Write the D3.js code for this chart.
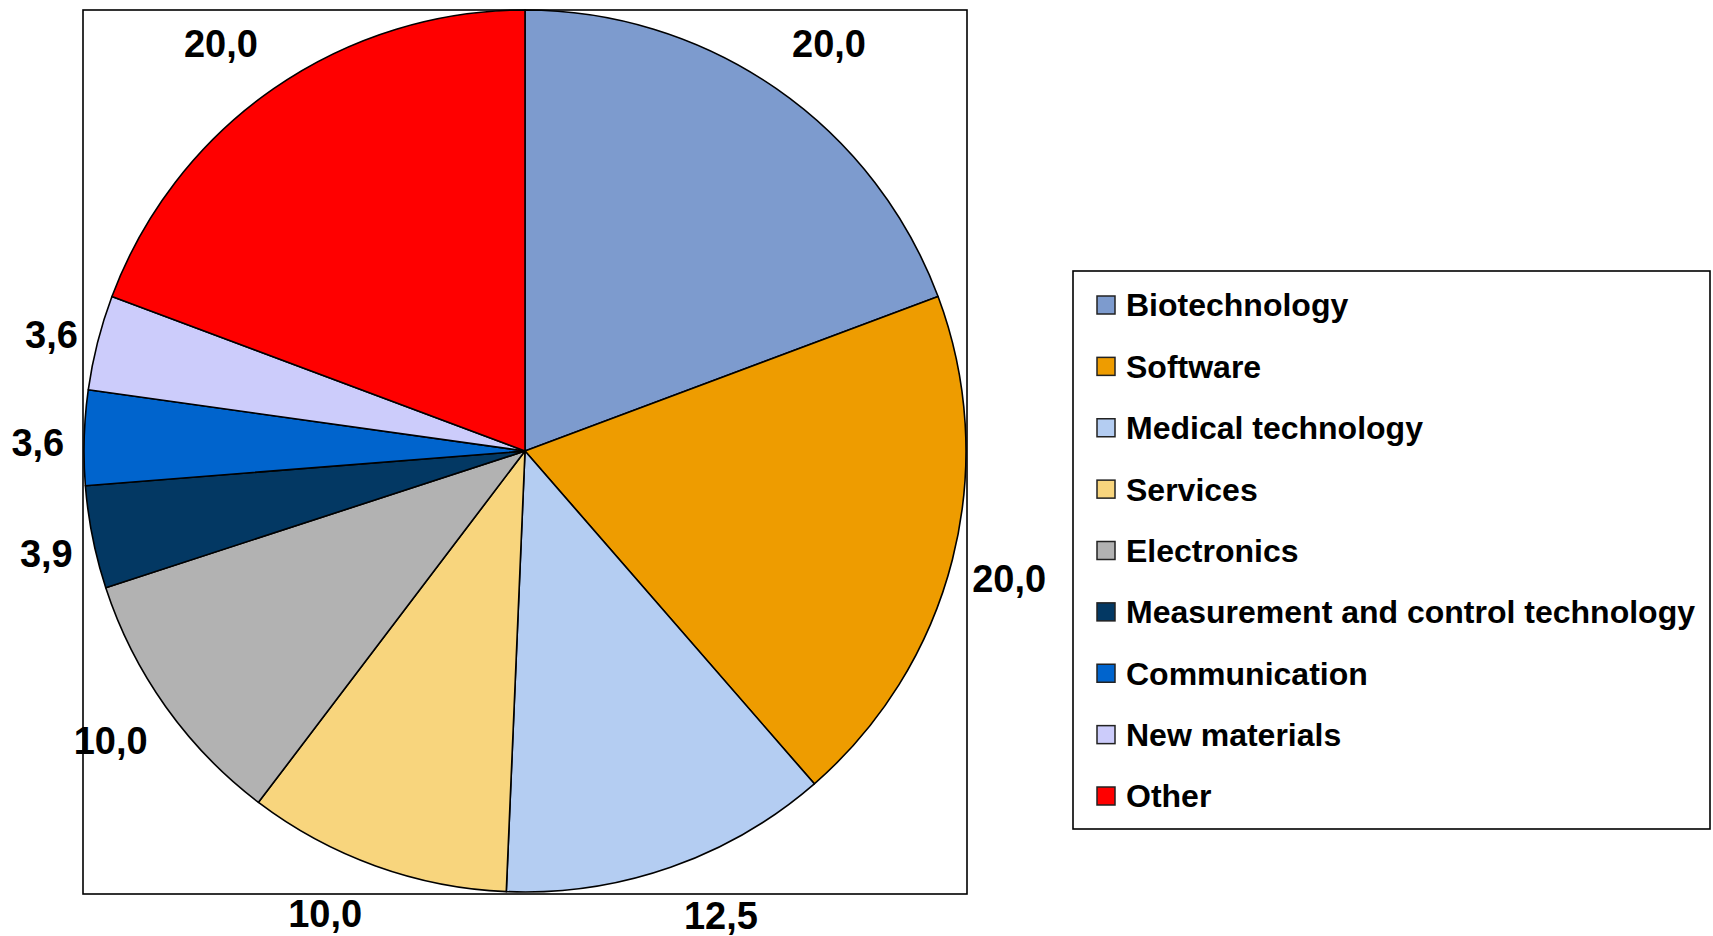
<!DOCTYPE html>
<html>
<head>
<meta charset="utf-8">
<script src="https://cdn.jsdelivr.net/npm/d3@7"></script>
<style>
  html, body { margin: 0; padding: 0; background: #fff; }
  svg { display: block; font-family: "Liberation Sans", Arial, sans-serif; font-weight: bold; }
</style>
</head>
<body>
<svg id="chart" width="1713" height="936"></svg>
<script>
// Share of companies by sector (%)
const categories = [
  "Biotechnology",
  "Software",
  "Medical technology",
  "Services",
  "Electronics",
  "Measurement and control technology",
  "Communication",
  "New materials",
  "Other"
];
const values = [20.0, 20.0, 12.5, 10.0, 10.0, 3.9, 3.6, 3.6, 20.0];
const colors = [
  "#7d9bce", "#ee9c00", "#b4cdf2", "#f8d57d", "#b2b2b2",
  "#033863", "#0064cd", "#ccccfb", "#ff0000"
];

const svg = d3.select("#chart");
const W = 1713, H = 936;
svg.append("rect").attr("width", W).attr("height", H).attr("fill", "#fff");

// plot frame around the pie
const frame = { x: 83, y: 10, w: 884, h: 884 };
svg.append("rect")
  .attr("x", frame.x).attr("y", frame.y)
  .attr("width", frame.w).attr("height", frame.h)
  .attr("fill", "none").attr("stroke", "#000").attr("stroke-width", 1.6);

const cx = frame.x + frame.w / 2;
const cy = frame.y + frame.h / 2 - 1;
const r = 441;

const data = categories.map((c, i) => ({ name: c, value: values[i], color: colors[i] }));

const pie = d3.pie().value(d => d.value).sort(null).startAngle(0).endAngle(2 * Math.PI);
const arc = d3.arc().innerRadius(0).outerRadius(r);
const arcs = pie(data);

const g = svg.append("g").attr("transform", `translate(${cx},${cy})`);
g.selectAll("path.slice")
  .data(arcs)
  .join("path")
  .attr("class", "slice")
  .attr("d", arc)
  .attr("fill", d => d.data.color)
  .attr("stroke", "#000")
  .attr("stroke-width", 1.6)
  .attr("stroke-linejoin", "round");

// value labels, comma as decimal separator
const locale = d3.formatLocale({ decimal: ",", thousands: ".", grouping: [3], currency: ["", "€"] });
const fmt = locale.format(".1f");
const labelSize = 38;

const labels = g.selectAll("text.val")
  .data(arcs)
  .join("text")
  .attr("class", "val")
  .attr("text-anchor", "middle")
  .attr("font-size", labelSize)
  .attr("fill", "#000")
  .text(d => fmt(d.data.value));

// each label sits just outside the rim, pushed sideways by its own half width
labels.each(function(d) {
  const a = (d.startAngle + d.endAngle) / 2;
  const s = Math.sin(a), c = Math.cos(a);
  const w = this.getComputedTextLength();
  const lx = (r + 10) * s + Math.sign(s) * (w / 2 + 10);
  const ly = -(r + 10) * c - 40 * c - 8 * Math.max(c, 0) + 7 * s * s;
  d3.select(this).attr("x", lx).attr("y", ly + labelSize * 0.358);
});

// legend
const legend = { x: 1073, y: 271, w: 637, h: 558 };
svg.append("rect")
  .attr("x", legend.x).attr("y", legend.y)
  .attr("width", legend.w).attr("height", legend.h)
  .attr("fill", "#fff").attr("stroke", "#000").attr("stroke-width", 1.6);

const rowY = d3.scalePoint().domain(categories).range([305, 796]);
const items = svg.selectAll("g.item")
  .data(data)
  .join("g")
  .attr("class", "item")
  .attr("transform", d => `translate(0,${rowY(d.name)})`);

items.append("rect")
  .attr("x", 1097).attr("y", -9)
  .attr("width", 18).attr("height", 18)
  .attr("fill", d => d.color)
  .attr("stroke", "#222").attr("stroke-width", 1.5);

items.append("text")
  .attr("x", 1126)
  .attr("y", 32 * 0.358)
  .attr("font-size", 32)
  .attr("fill", "#000")
  .text(d => d.name);
</script>
</body>
</html>
